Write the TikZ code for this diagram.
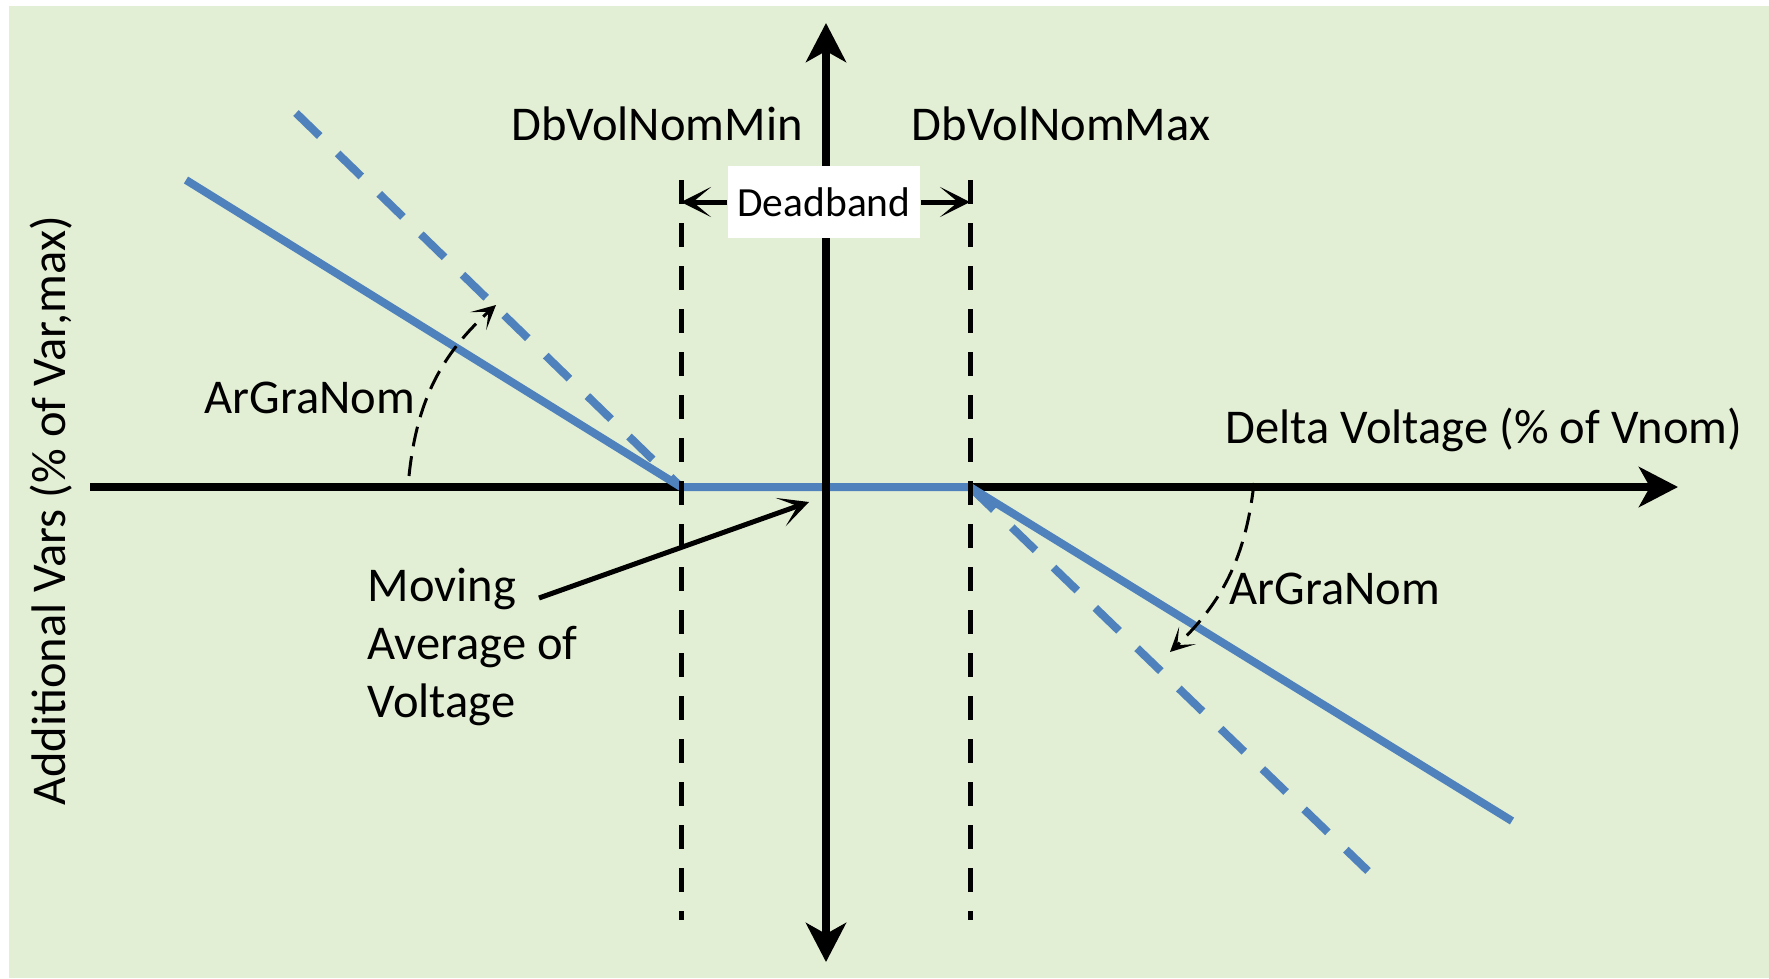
\documentclass[tikz,border=0pt]{standalone}
\usepackage{fontspec}
\setmainfont{Carlito}
\usetikzlibrary{arrows.meta,positioning}

\definecolor{plotbg}{RGB}{227,239,212}
\definecolor{curveblue}{RGB}{79,129,189}

\begin{document}
\begin{tikzpicture}[x=0.01cm,y=-0.01cm,
  font=\fontsize{13.8}{16.6}\selectfont,
  bigtip/.tip={Stealth[length=0.39cm,width=0.4cm,inset=0.11cm]},
  axis/.style={line width=0.075cm},
  guide/.style={line width=0.05cm,dash pattern=on 0.24cm off 0.19cm},
  curve/.style={curveblue,line width=0.08cm},
  slope/.style={curve,dash pattern=on 0.33cm off 0.25cm},
  pointer/.style={line width=0.05cm,-{Stealth[length=0.3cm,width=0.3cm,inset=0.18cm]}},
  turn/.style={line width=0.03cm,dash pattern=on 0.2cm off 0.1cm,
    -{Stealth[length=0.24cm,width=0.24cm,inset=0.14cm]}},
  label/.style={inner sep=0pt}]

  \useasboundingbox (0,0) rectangle (1769,978);
  \fill[plotbg] (9,6) rectangle (1769,978);

  % axes and corner points of the curve
  \coordinate (xl)   at (90,487);
  \coordinate (xr)   at (1678,487);
  \coordinate (yt)   at (826,23);
  \coordinate (yb)   at (826,962);
  \coordinate (dmin) at (681,487);
  \coordinate (dmax) at (970,487);
  \coordinate (mintop) at (681,180);
  \coordinate (minbot) at (681,920);
  \coordinate (maxtop) at (970,180);
  \coordinate (maxbot) at (970,920);

  \coordinate (lsol)  at (186,180);
  \coordinate (ldash) at (296,113);
  \coordinate (rsol)  at (1512,821);
  \coordinate (rdash) at (1368,871);

  \draw[axis,-bigtip] (xl) -- (xr);

  \draw[curve] (lsol) -- (dmin) -- (dmax) -- (rsol);
  \draw[slope] (ldash) -- (dmin);
  \draw[slope] (dmax) -- (rdash);

  \draw[axis,bigtip-bigtip] (yt) -- (yb);
  \draw[guide] (mintop) -- (minbot);
  \draw[guide] (maxtop) -- (maxbot);

  \node[label,fill=white,minimum width=1.92cm,minimum height=0.71cm,
    font=\fontsize{11.8}{14}\selectfont] (deadband) at (824,202) {Deadband};
  \draw[pointer] (deadband.west) -- (deadband.west -| mintop);
  \draw[pointer] (deadband.east) -- (deadband.east -| maxtop);

  \node[label] (volmin) at (657,124) {DbVolNomMin};
  \node[label] (volmax) at (1061,124) {DbVolNomMax};
  \node[label] (xlabel) at (1484,430) {Delta Voltage (\% of Vnom)};
  \node[label,rotate=90] (ylabel) at (51,511) {Additional Vars (\% of Var,max)};

  \node[label] (gradl) at (310,398) {ArGraNom};
  \node[label] (gradr) at (1335,589) {ArGraNom};
  \coordinate (al1) at (409,476);
  \coordinate (al2) at (496,305);
  \coordinate (ar1) at (1254,483);
  \coordinate (ar2) at (1170,652);
  \draw[turn] (al1) to[bend left=21] (al2);
  \draw[turn] (ar1) to[bend left=20] (ar2);

  \node[label,align=left,anchor=west] (mav) at (367,647) {Moving\\Average of\\Voltage};
  \coordinate (mavfrom) at (539,598);
  \coordinate (mavtip)  at (809,502);
  \draw[pointer] (mavfrom) -- (mavtip);
\end{tikzpicture}
\end{document}
